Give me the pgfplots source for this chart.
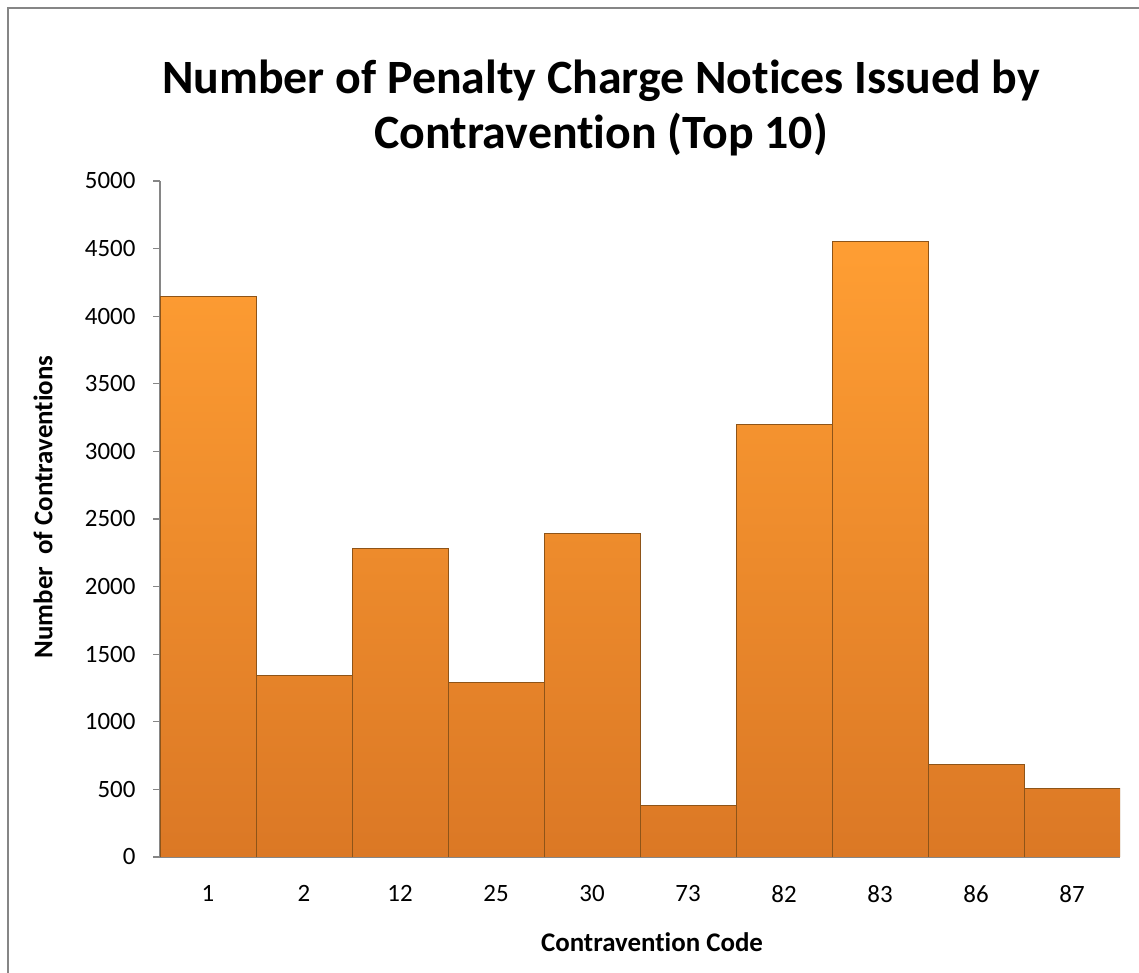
\documentclass[border=0pt]{standalone}
\usepackage{pgfplots}
\pgfplotsset{compat=1.18}
\usepackage{fontspec}
\setmainfont{Carlito}[RawFeature={-liga;-clig;-calt}]
\definecolor{axgray}{HTML}{868686}
\definecolor{bartop}{HTML}{FF9E33}
\definecolor{barbot}{HTML}{DB7825}
\definecolor{baredge}{HTML}{8E5418}
\begin{document}
\begin{tikzpicture}[x=1bp,y=1bp]
\useasboundingbox (0,0) rectangle (1139,973);
\fill[white] (0,0) rectangle (1139,973);
\draw[axgray,line width=1.5bp] (8,0) -- (8,965) -- (1139,965);
\node[font=\bfseries\fontsize{48}{55}\selectfont,align=center] at (601,865) {Number of Penalty Charge Notices Issued by\\Contravention (Top 10)};
\begin{axis}[
  at={(160bp,116bp)}, anchor=south west,
  scale only axis, width=960bp, height=676bp,
  xmin=-0.5, xmax=9.5, ymin=0, ymax=5000,
  axis x line*=bottom, axis y line*=left,
  axis line style={axgray,line width=1.5bp,-},
  ytick={0,500,...,5000},
  xtick={0,...,9},
  xticklabels={1,2,12,25,30,73,82,83,86,87},
  x tick style={draw=none},
  y tick style={axgray,line width=1.2bp},
  tick align=outside,
  major tick length=7bp,
  tick label style={font=\fontsize{25}{28}\selectfont},
  /pgf/number format/assume math mode=true,
  yticklabel style={/pgf/number format/1000 sep={}, xshift=-14bp},
  xticklabel style={yshift=-18bp},
]
\addplot[ybar, bar width=1, draw=baredge, line width=0.8bp, top color=bartop, bottom color=barbot]
coordinates {(0,4148) (1,1341) (2,2280) (3,1294) (4,2396) (5,384) (6,3200) (7,4553) (8,684) (9,507)};
\end{axis}
\node[font=\bfseries\fontsize{27}{30}\selectfont] at (652,31) {Contravention Code};
\node[font=\bfseries\fontsize{27}{30}\selectfont,rotate=90] at (43,466) {Number\ \ of Contraventions};
\end{tikzpicture}
\end{document}
